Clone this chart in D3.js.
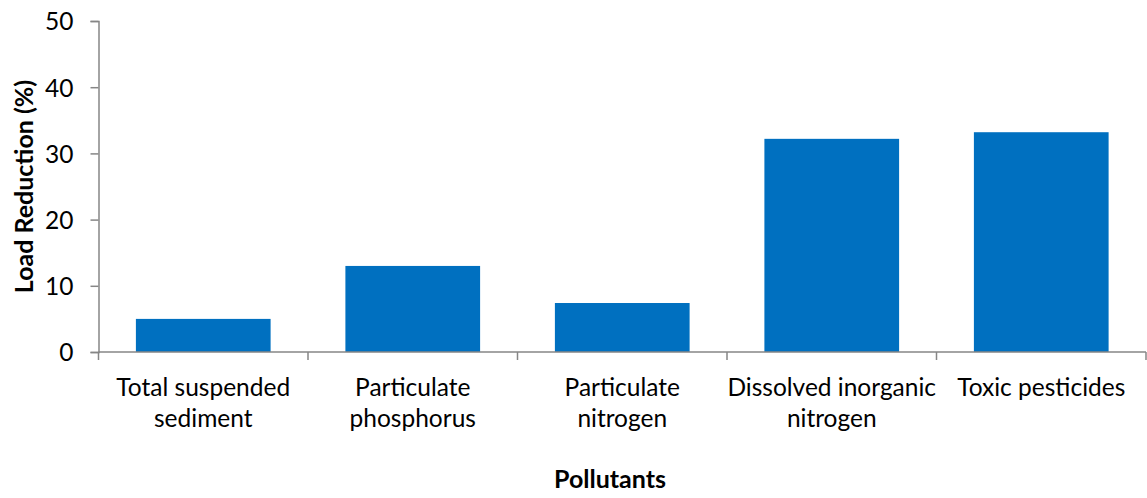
<!DOCTYPE html>
<html>
<head>
<meta charset="utf-8">
<script src="https://cdn.jsdelivr.net/npm/d3@7"></script>
<style>
  html, body { margin: 0; padding: 0; background: #fff; }
  svg { display: block; font-family: Lato, "Open Sans", sans-serif; }
</style>
</head>
<body>
<script>
// Pollutant categories and their load reduction (%)
const categories = [
  "Total suspended sediment",
  "Particulate phosphorus",
  "Particulate nitrogen",
  "Dissolved inorganic nitrogen",
  "Toxic pesticides"
];
const categoryLines = [
  ["Total suspended", "sediment"],
  ["Particulate", "phosphorus"],
  ["Particulate", "nitrogen"],
  ["Dissolved inorganic", "nitrogen"],
  ["Toxic pesticides"]
];
const loadReduction = [5.0, 13.0, 7.4, 32.2, 33.2];
const yTicks = [0, 10, 20, 30, 40, 50];

const width = 1147, height = 498;
const margin = { top: 21, right: 1, bottom: 146, left: 98.5 };
const axisColor = "#868686";
const barColor = "#0070C0";
const fontFamily = "Lato, 'Open Sans', sans-serif";

const svg = d3.select("body").append("svg")
  .attr("width", width)
  .attr("height", height);

const gap = 0.357;
const x = d3.scaleBand()
  .domain(categories)
  .range([margin.left, width - margin.right])
  .paddingInner(gap)
  .paddingOuter(gap / 2);

const y = d3.scaleLinear()
  .domain([0, 50])
  .range([height - margin.bottom, margin.top]);

// Bars
svg.append("g")
  .selectAll("rect")
  .data(categories)
  .join("rect")
  .attr("x", d => x(d))
  .attr("width", x.bandwidth())
  .attr("y", (d, i) => y(loadReduction[i]))
  .attr("height", (d, i) => y(0) - y(loadReduction[i]))
  .attr("fill", barColor);

// Y axis
const yAxis = svg.append("g")
  .attr("transform", `translate(${margin.left},0)`)
  .call(d3.axisLeft(y).tickValues(yTicks).tickSize(8).tickPadding(17))
  .attr("font-family", fontFamily)
  .attr("font-size", null);
yAxis.select(".domain").attr("stroke", axisColor).attr("stroke-width", 1.5);
yAxis.selectAll(".tick line").attr("stroke", axisColor).attr("stroke-width", 1.5);
yAxis.selectAll(".tick text")
  .attr("fill", "#000")
  .style("font-size", "24.5px")
  .attr("dy", "0.36em");

// X axis: category boundaries carry the tick marks
const step = x.step();
const boundaries = d3.range(categories.length + 1).map(i => margin.left + i * step);
const xAxisG = svg.append("g");
xAxisG.append("line")
  .attr("x1", margin.left).attr("x2", width - margin.right)
  .attr("y1", y(0)).attr("y2", y(0))
  .attr("stroke", axisColor).attr("stroke-width", 1.5);
xAxisG.selectAll("line.tk")
  .data(boundaries)
  .join("line")
  .attr("class", "tk")
  .attr("x1", d => d).attr("x2", d => d)
  .attr("y1", y(0)).attr("y2", y(0) + 8)
  .attr("stroke", axisColor).attr("stroke-width", 1.5);

// Category labels (wrapped)
const labels = svg.append("g")
  .selectAll("text")
  .data(categories)
  .join("text")
  .attr("x", d => x(d) + x.bandwidth() / 2)
  .attr("y", 396)
  .attr("text-anchor", "middle")
  .attr("fill", "#000")
  .style("font-size", "24.5px");
labels.each(function(d, i) {
  d3.select(this).selectAll("tspan")
    .data(categoryLines[i])
    .join("tspan")
    .attr("x", x(d) + x.bandwidth() / 2)
    .attr("dy", (t, j) => j === 0 ? 0 : 31)
    .text(t => t);
});

// Axis titles
svg.append("text")
  .attr("x", 610)
  .attr("y", 488)
  .attr("text-anchor", "middle")
  .attr("font-weight", "bold")
  .style("font-size", "25px")
  .text("Pollutants");

svg.append("text")
  .attr("transform", `translate(33,${(y(0) + y(50)) / 2}) rotate(-90)`)
  .attr("text-anchor", "middle")
  .attr("font-weight", "bold")
  .style("font-size", "25px")
  .text("Load Reduction (%)");
</script>
</body>
</html>
